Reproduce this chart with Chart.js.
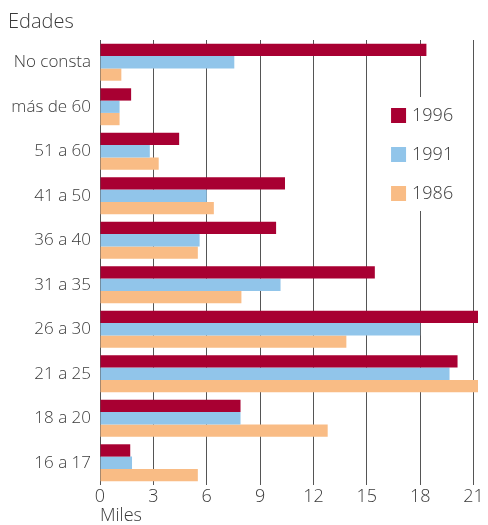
<!DOCTYPE html>
<html>
<head>
<meta charset="utf-8">
<script src="https://cdn.jsdelivr.net/npm/chart.js@4"></script>
<style>
html,body{margin:0;padding:0;background:#fff;}
#wrap{width:488px;height:525px;position:relative;}
</style>
</head>
<body>
<div id="wrap"><canvas id="edades"></canvas></div>
<script>
const categories=['No consta','más de 60','51 a 60','41 a 50','36 a 40','31 a 35','26 a 30','21 a 25','18 a 20','16 a 17'];
const years=['1996','1991','1986'];
const v1996=[18.35,1.75,4.45,10.4,9.9,15.45,21.25,20.1,7.9,1.7];
const v1991=[7.55,1.1,2.8,6.0,5.6,10.15,18.0,19.65,7.9,1.8];
const v1986=[1.2,1.1,3.3,6.4,5.5,7.95,13.85,21.25,12.8,5.5];
const xTicks=[0,3,6,9,12,15,18,21];
const colors=['#a80032','#91c5ea','#f9bc85'];
const txt='#3a3a3a', fam='"Open Sans", sans-serif';

// leyenda dentro del área del gráfico, con fondo blanco
const legendBox={id:'legendBox',afterDatasetsDraw(chart){
  const c=chart.ctx, x=chart.scales.x;
  const left=x.getPixelForValue(15.8), top=97;
  c.save();
  c.fillStyle='#fff'; c.fillRect(left,top,x.getPixelForValue(20.6)-left,114);
  c.font='300 18px '+fam; c.textBaseline='middle';
  chart.data.datasets.forEach((d,i)=>{
    const y=top+11+i*39;
    c.fillStyle=d.backgroundColor; c.fillRect(left+10,y,15,15);
    c.fillStyle=txt; c.fillText(d.label,left+31,y+8);
  });
  c.restore();
}};

new Chart(document.getElementById('edades'),{
  type:'bar',
  data:{labels:categories,datasets:[
    {label:years[0],data:v1996,backgroundColor:colors[0]},
    {label:years[1],data:v1991,backgroundColor:colors[1]},
    {label:years[2],data:v1986,backgroundColor:colors[2]}
  ]},
  options:{
    indexAxis:'y',responsive:true,maintainAspectRatio:false,animation:false,
    datasets:{bar:{categoryPercentage:0.83,barPercentage:1}},
    layout:{padding:{left:8,right:10,top:0,bottom:0}},
    plugins:{
      legend:{display:false},tooltip:{enabled:false},
      title:{display:true,text:'Edades',align:'start',color:txt,font:{family:fam,size:20,weight:300},padding:{top:10,bottom:6}}
    },
    scales:{
      x:{min:0,max:21.25,
        afterBuildTicks(s){s.ticks=xTicks.map(v=>({value:v}));},
        afterFit(s){s.height=40;},
        grid:{color:'#555',lineWidth:1,drawTicks:false},border:{display:false},
        ticks:{color:txt,padding:3,maxRotation:0,font:{family:fam,size:18,weight:300,lineHeight:1.0}},
        title:{display:true,text:'Miles',align:'start',color:txt,padding:{top:0,bottom:0},font:{family:fam,size:18,weight:300,lineHeight:1.05}}
      },
      y:{grid:{display:false,drawTicks:false},border:{display:false},
        afterFit(s){s.width=92;},
        ticks:{color:txt,padding:9,font:{family:fam,size:17,weight:300}}
      }
    }
  },
  plugins:[legendBox]
});
</script>
</body>
</html>
